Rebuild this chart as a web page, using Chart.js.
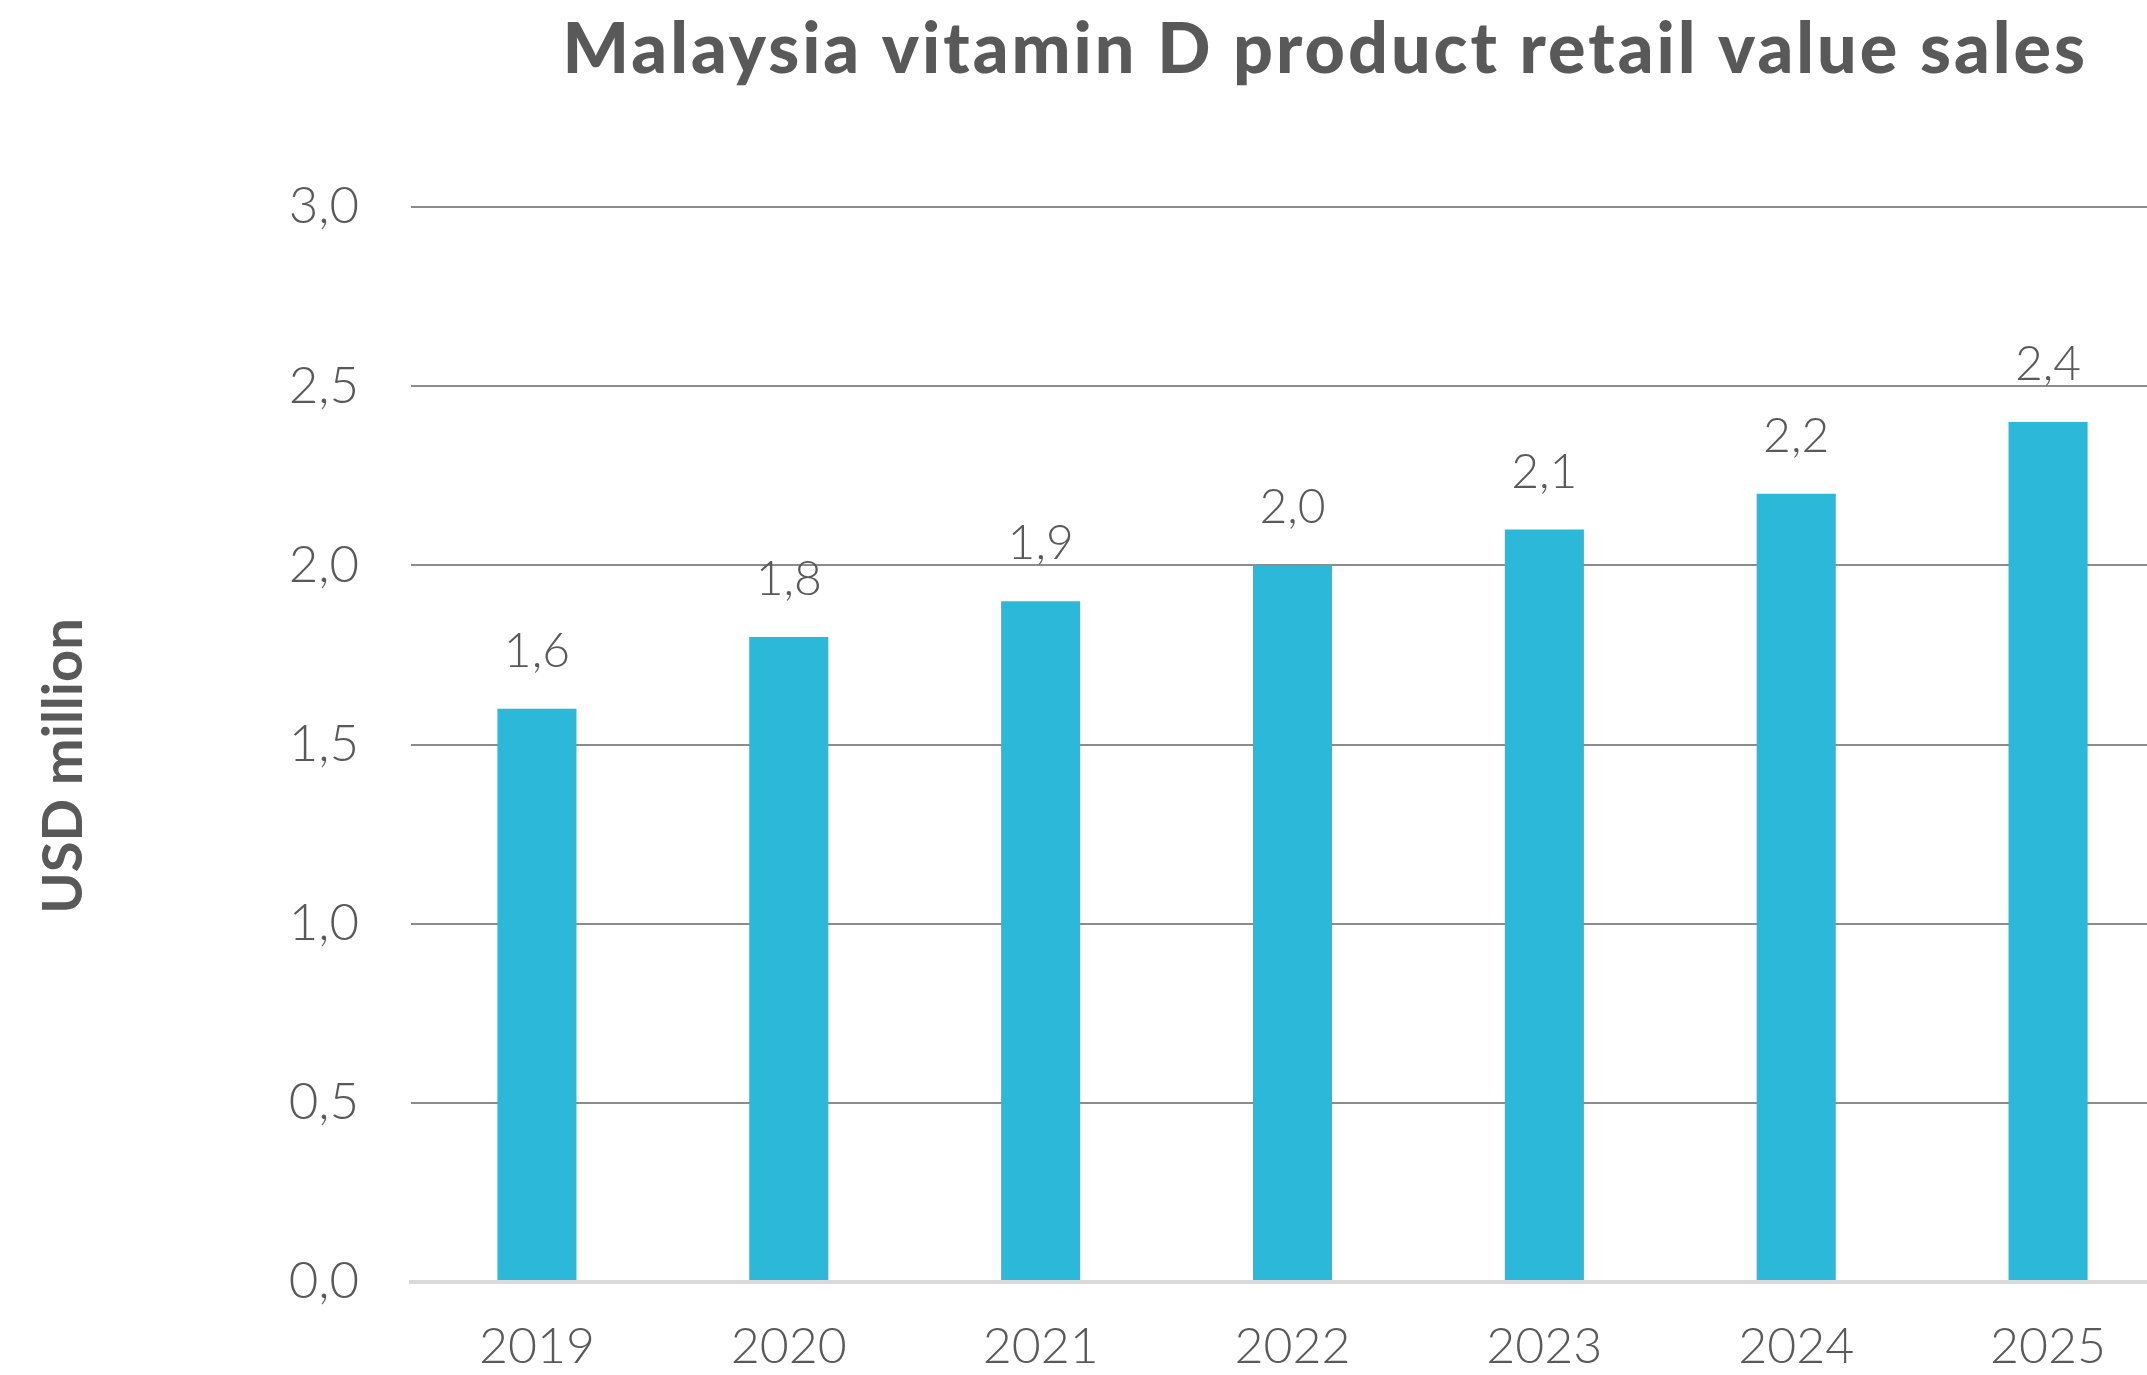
<!DOCTYPE html>
<html>
<head>
<meta charset="utf-8">
<title>Malaysia vitamin D product retail value sales</title>
<script src="https://cdn.jsdelivr.net/npm/chart.js@4"></script>
<style>
  html, body { margin: 0; padding: 0; background: #fff; overflow: hidden; }
  #wrap { width: 2147px; height: 1375px; overflow: hidden; }
</style>
</head>
<body>
<div id="wrap">
  <canvas id="barChart" width="2180" height="1375"></canvas>
</div>
<script>
const years = ["2019", "2020", "2021", "2022", "2023", "2024", "2025"];
const sales = [1.6, 1.8, 1.9, 2.0, 2.1, 2.2, 2.4];
const yTicks = [0, 0.5, 1.0, 1.5, 2.0, 2.5, 3.0];

const chartTitle = "Malaysia vitamin D product retail value sales";
const axisTitle = "USD million";

const textColor = "#595959";
const barColor = "#2bb8d9";
const fontFamily = "Lato, 'Open Sans', sans-serif";

// decimal comma, like the original
function fmt(v) {
  return v.toFixed(1).replace(".", ",");
}

// chart title (right-shifted) and rotated axis title
const titlePlugin = {
  id: "titleText",
  afterDraw(chart) {
    const ctx = chart.ctx;
    ctx.save();
    ctx.font = "900 70px " + fontFamily;
    ctx.letterSpacing = "3px";
    ctx.fillStyle = textColor;
    ctx.textAlign = "right";
    ctx.textBaseline = "alphabetic";
    ctx.fillText(chartTitle, 2088, 73);
    ctx.restore();

    ctx.save();
    ctx.font = "700 56px " + fontFamily;
    ctx.fillStyle = textColor;
    ctx.textAlign = "center";
    ctx.textBaseline = "middle";
    ctx.translate(64, 766);
    ctx.rotate(-Math.PI / 2);
    ctx.fillText(axisTitle, 0, 0);
    ctx.restore();
  },
};

// value labels above the bars
const valueLabels = {
  id: "valueLabels",
  afterDatasetsDraw(chart) {
    const ctx = chart.ctx;
    const meta = chart.getDatasetMeta(0);
    ctx.save();
    ctx.font = "300 48px " + fontFamily;
    ctx.fillStyle = textColor;
    ctx.textAlign = "center";
    ctx.textBaseline = "alphabetic";
    meta.data.forEach((bar, i) => {
      ctx.fillText(fmt(sales[i]), bar.x, bar.y - 42);
    });
    ctx.restore();
  },
};

const ctx = document.getElementById("barChart").getContext("2d");
const barChart = new Chart(ctx, {
  type: "bar",
  data: {
    labels: years,
    datasets: [
      {
        data: sales,
        backgroundColor: barColor,
        borderWidth: 0,
        barPercentage: 0.314,
        categoryPercentage: 1,
      },
    ],
  },
  options: {
    responsive: false,
    animation: false,
    layout: {
      padding: { top: 207, right: 6, bottom: 0, left: 0 },
    },
    plugins: {
      legend: { display: false },
      tooltip: { enabled: false },
    },
    scales: {
      x: {
        grid: { display: false, drawTicks: false },
        border: { display: true, color: "#d9d9d9", width: 4 },
        ticks: {
          color: textColor,
          padding: 40,
          font: { family: fontFamily, size: 50, weight: 300, lineHeight: 1 },
        },
        afterFit(scale) {
          scale.height = 93;
        },
      },
      y: {
        min: 0,
        max: 3,
        afterBuildTicks(scale) {
          scale.ticks = yTicks.map((v) => ({ value: v }));
        },
        border: { display: false },
        grid: {
          drawTicks: false,
          color: (c) => (c.tick && c.tick.value === 0 ? "#d9d9d9" : "#8c8c8c"),
          lineWidth: (c) => (c.tick && c.tick.value === 0 ? 4 : 2),
        },
        ticks: {
          color: textColor,
          padding: 52,
          font: { family: fontFamily, size: 51, weight: 300 },
          callback: (v) => fmt(v),
        },
        afterFit(scale) {
          scale.width = 411;
        },
      },
    },
  },
  plugins: [titlePlugin, valueLabels],
});
</script>
</body>
</html>
